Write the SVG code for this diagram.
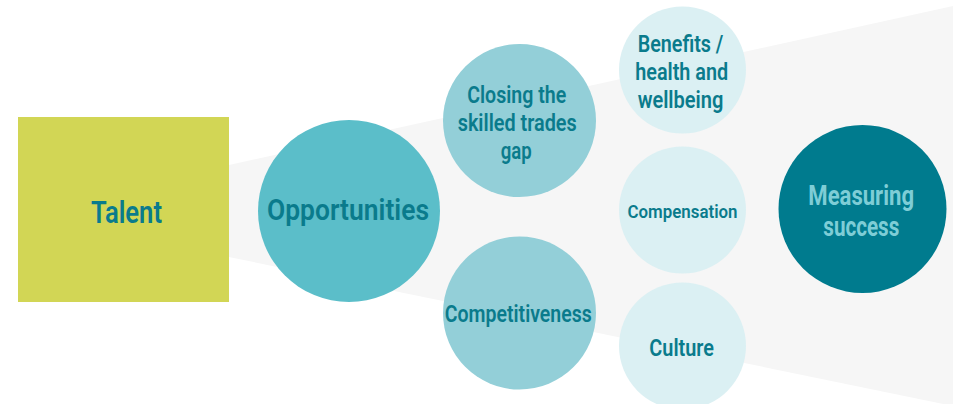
<svg xmlns="http://www.w3.org/2000/svg" width="953" height="404" viewBox="0 0 953 404">
  <style>
    .lbl { font-family: Roboto, "DejaVu Sans Condensed", "Liberation Sans", sans-serif; font-weight: 600; fill: #0a7b8c; text-anchor: middle; }
    .strong { font-weight: 700; fill: #7ecdd6; }
    .light { fill: #dbf0f3; }
    .mid { fill: #93cfd8; }
  </style>
  <rect width="953" height="404" fill="#ffffff"/>

  <!-- widening funnel behind the circles -->
  <g id="funnel">
    <polygon points="229,165 953,6 953,406 229,257" fill="#f6f6f6"/>
  </g>

  <g id="talent">
    <rect x="18" y="117" width="211" height="185" fill="#d2d655"/>
    <text class="lbl" x="126.5" y="223" font-size="32" textLength="71" lengthAdjust="spacingAndGlyphs">Talent</text>
  </g>

  <g id="opportunities">
    <circle cx="349" cy="211" r="91" fill="#5bbec9"/>
    <text class="lbl" x="348" y="220" font-size="29" textLength="162" lengthAdjust="spacingAndGlyphs">Opportunities</text>
  </g>

  <g id="closing-gap">
    <circle cx="519.5" cy="120.5" r="76.5" class="mid"/>
    <text class="lbl" x="516.7" y="102.7" font-size="23" textLength="99" lengthAdjust="spacingAndGlyphs">Closing the</text>
    <text class="lbl" x="517.2" y="130.7" font-size="23" textLength="119" lengthAdjust="spacingAndGlyphs">skilled trades</text>
    <text class="lbl" x="516.2" y="158.7" font-size="23" textLength="31" lengthAdjust="spacingAndGlyphs">gap</text>
  </g>

  <g id="competitiveness">
    <circle cx="519.5" cy="313" r="76.5" class="mid"/>
    <text class="lbl" x="518.3" y="321.7" font-size="23" textLength="147" lengthAdjust="spacingAndGlyphs">Competitiveness</text>
  </g>

  <g id="benefits">
    <circle cx="682.5" cy="70" r="63.5" class="light"/>
    <text class="lbl" x="680.5" y="51.7" font-size="23" textLength="85.7" lengthAdjust="spacingAndGlyphs">Benefits /</text>
    <text class="lbl" x="681.7" y="80" font-size="23" textLength="93" lengthAdjust="spacingAndGlyphs">health and</text>
    <text class="lbl" x="680.5" y="108.3" font-size="23" textLength="85.7" lengthAdjust="spacingAndGlyphs">wellbeing</text>
  </g>

  <g id="compensation">
    <circle cx="682.5" cy="210" r="63.5" class="light"/>
    <text class="lbl" x="682.5" y="218.3" font-size="19" textLength="110" lengthAdjust="spacingAndGlyphs">Compensation</text>
  </g>

  <g id="culture">
    <circle cx="682.5" cy="346" r="63.5" class="light"/>
    <text class="lbl" x="681.7" y="356" font-size="23" textLength="64.7" lengthAdjust="spacingAndGlyphs">Culture</text>
  </g>

  <g id="measuring-success">
    <circle cx="862.5" cy="209" r="84" fill="#007b8e"/>
    <text class="lbl strong" x="861.2" y="205" font-size="27" textLength="105.7" lengthAdjust="spacingAndGlyphs">Measuring</text>
    <text class="lbl strong" x="861.3" y="236" font-size="27" textLength="76" lengthAdjust="spacingAndGlyphs">success</text>
  </g>

  <g id="connectors"/>
</svg>
